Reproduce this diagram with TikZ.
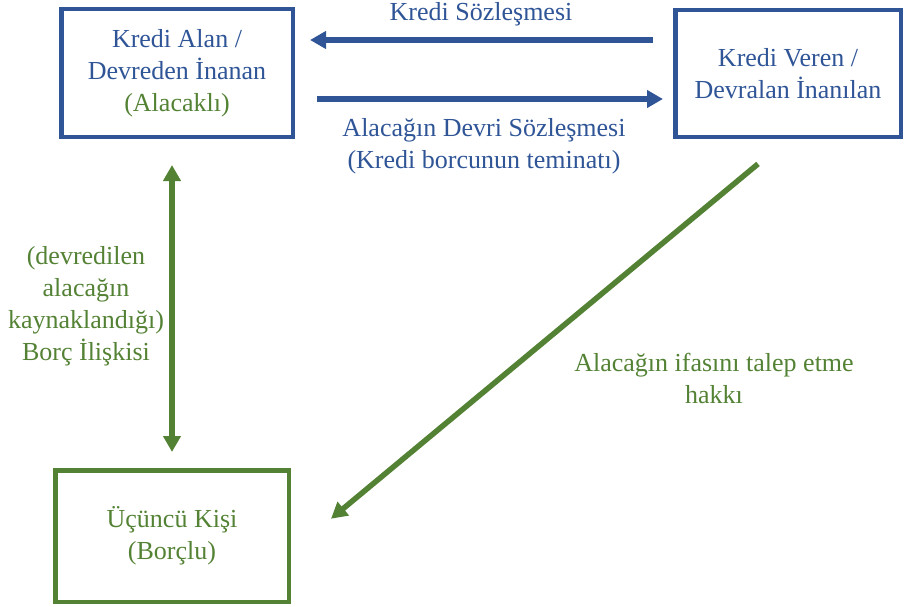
\documentclass[tikz,border=0pt]{standalone}
\usepackage{fontspec}
\setmainfont{Liberation Serif}
\usetikzlibrary{arrows.meta,calc}
\definecolor{kblue}{RGB}{47,85,151}
\definecolor{kgreen}{RGB}{84,130,53}
\tikzset{party/.style={draw,line width=4.5pt,align=center,inner sep=0pt}}
\tikzset{link/.style={line width=5.5pt,-{Triangle[length=16pt,width=17pt]}}}
\begin{document}
\begin{tikzpicture}
[x=1pt,y=-1pt,font=\fontsize{26}{32}\selectfont]
\useasboundingbox (0,0) rectangle (904,607);
\node (alan) at (177,73)[party,kblue,minimum width=231.5pt,minimum height=127.5pt]{Kredi Alan /\\Devreden İnanan\\\textcolor{kgreen}{(Alacaklı)}};
\node (veren) at (788,73.5)[party,kblue,minimum width=225.5pt,minimum height=126.5pt]{Kredi Veren /\\Devralan İnanılan};
\node (borclu) at (172,536)[party,kgreen,minimum width=233.5pt,minimum height=131.5pt]{Üçüncü Kişi\\(Borçlu)};
\node (kstext) at (481,14)[kblue]{Kredi Sözleşmesi};
\node (devtext) at (484,146)[kblue,align=center]{Alacağın Devri Sözleşmesi\\(Kredi borcunun teminatı)};
\node (borctext) at (86,306)[kgreen,align=center]{(devredilen\\alacağın\\kaynaklandığı)\\Borç İlişkisi};
\node (hakktext) at (714,378)[kgreen,align=center]{Alacağın ifasını talep etme\\hakkı};

\draw[link,kblue,shorten <=20pt,shorten >=15pt] (veren.west |- 0,40) -- (alan.east |- 0,40);
\draw[link,kblue,shorten <=22pt,shorten >=10pt] (alan.east |- 0,99) -- (veren.west |- 0,99);
\draw[link,kgreen,{Triangle[length=16pt,width=17pt]}-{Triangle[length=16pt,width=17pt]},shorten <=26pt,shorten >=16pt] (borclu.north |- alan.south) -- (borclu.north);
\draw[link,kgreen,shorten <=39pt,shorten >=52pt] (veren.south) -- ($(borclu.east)+(0,16)$);
\end{tikzpicture}
\end{document}
